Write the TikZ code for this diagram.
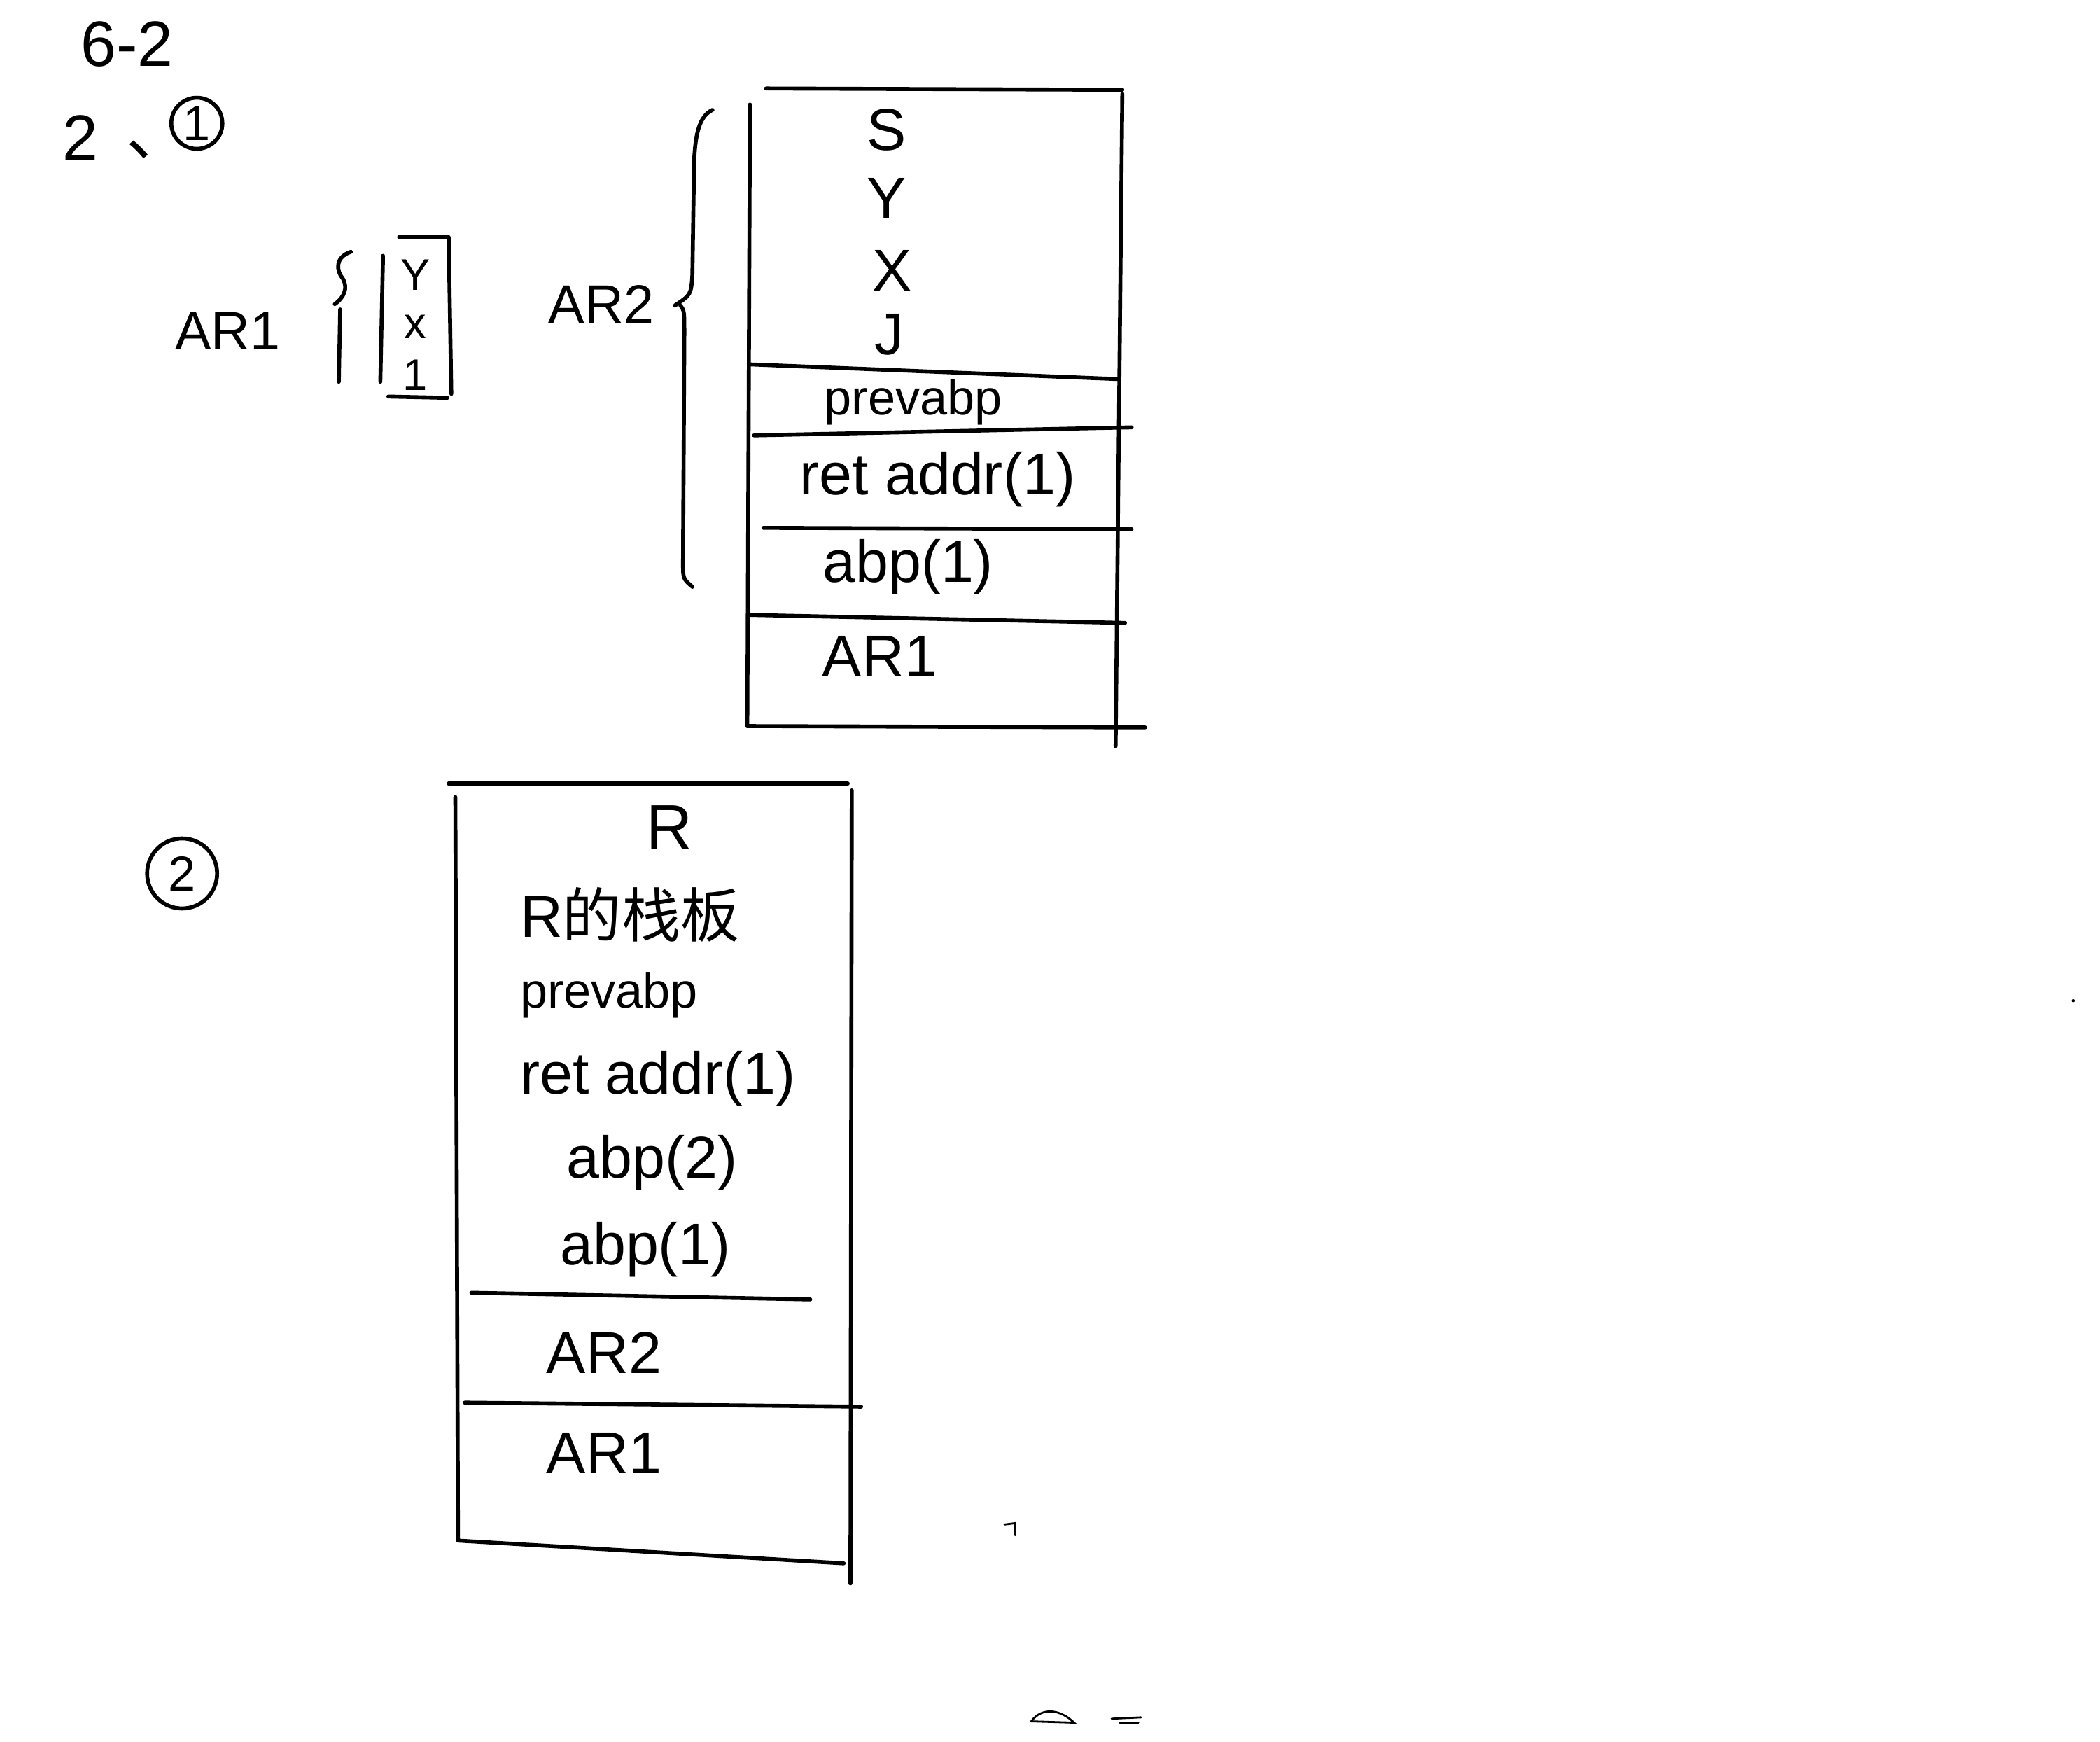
\documentclass[tikz,border=0pt]{standalone}
\usepackage{fontspec}
\setmainfont{Liberation Sans}
\newfontfamily\cjk{Noto Sans CJK SC}
\usetikzlibrary{positioning}
\tikzset{every picture/.append style={x=1.913cm,y=-1.913cm}}
\tikzset{pen/.style={line width=1.6pt, line cap=round, line join=round}}
\tikzset{speck/.style={line width=0.8pt, line cap=round}}
\tikzset{slot/.style={inner sep=0pt, font=\fontsize{24}{28}\selectfont}}
\tikzset{narrow/.style={inner sep=0pt, font=\fontsize{20}{24}\selectfont}}
\tikzset{label/.style={inner sep=0pt, font=\fontsize{26}{30}\selectfont}}
\tikzset{side/.style={inner sep=0pt, font=\fontsize{22}{26}\selectfont}}
\tikzset{small/.style={inner sep=0pt, font=\fontsize{18}{22}\selectfont}}
\tikzset{ring/.style={circle, draw, line width=1.6pt, inner sep=0pt, font=\fontsize{20}{24}\selectfont}}

\begin{document}
\begin{tikzpicture}
\useasboundingbox (0,0) rectangle (15.68,13.00);
%headings
\node (title) at (0.95,0.33)[label]{6-2};
\node (two) at (0.60,1.03)[label]{2};
\node (dun) at (0.94,1.16)[label, anchor=base west]{\cjk 、};
\node (one) at (1.47,0.92)[ring, minimum size=0.73cm]{1};
\node (second) at (1.36,6.52)[ring, minimum size=1.0cm]{2};

%AR1 on its own
\node (ar1) at (1.70,2.47)[side]{AR1};
\draw[pen] (2.62,1.88) .. controls (2.50,1.92) and (2.51,2.02) .. (2.56,2.08) .. controls (2.60,2.15) and (2.57,2.22) .. (2.50,2.27);
\draw[pen] (2.54,2.31)--(2.53,2.85);
\coordinate (p1) at (2.86,1.91);
\coordinate (p2) at (2.84,2.85);
\coordinate (q1) at (2.98,1.77);
\coordinate (q2) at (3.35,1.77);
\coordinate (q3) at (3.37,2.94);
\coordinate (q4) at (2.90,2.96);
\coordinate (q5) at (3.34,2.97);
\draw[pen] (p1)--(p2);
\draw[pen] (q1)--(q2)--(q3);
\draw[pen] (q4)--(q5);
\node (y1) at (3.10,2.05)[small]{Y};
\node (x1) at (3.10,2.44)[small]{x};
\node (j1) at (3.10,2.80)[small]{1};

%AR2 stack
\node (ar2) at (4.49,2.27)[side]{AR2};
\draw[pen] (5.32,0.82) .. controls (5.19,0.88) and (5.18,1.10) .. (5.18,1.40) -- (5.17,2.05) .. controls (5.16,2.20) .. (5.04,2.28);
\draw[pen] (5.08,2.28) .. controls (5.11,2.32) .. (5.11,2.50) -- (5.10,4.20) .. controls (5.10,4.32) .. (5.17,4.38);
\coordinate (tl) at (5.60,0.78);
\coordinate (bl) at (5.58,5.42);
\coordinate (tr) at (8.38,0.70);
\coordinate (br) at (8.33,5.57);
\draw[pen] (5.72,0.66)--(8.38,0.67);
\draw[pen] (tl)--(bl);
\draw[pen] (tr)--(br);
\draw[pen] (bl)--(8.55,5.43);
\draw[pen] (5.60,2.72)--(8.35,2.83);
\draw[pen] (5.63,3.25)--(8.45,3.19);
\draw[pen] (5.70,3.94)--(8.45,3.95);
\draw[pen] (5.60,4.59)--(8.40,4.65);
\node (s) at (6.62,0.97)[slot]{S};
\node (y) at (6.62,1.48)[slot]{Y};
\node (x) at (6.66,2.02)[slot]{X};
\node (j) at (6.64,2.50)[slot]{J};
\node (prev) at (6.82,3.00)[narrow]{prevabp};
\node (ret) at (7.00,3.58)[slot]{ret addr(1)};
\node (abp) at (6.78,4.23)[slot]{abp(1)};
\node (ar1b) at (6.57,4.90)[slot]{AR1};

%R stack
\draw[pen] (3.35,5.85)--(6.33,5.85);
\draw[pen] (3.40,5.95)--(3.42,11.50)--(6.30,11.67);
\draw[pen] (6.36,5.90)--(6.35,11.82);
\draw[pen] (3.52,9.65)--(6.05,9.70);
\draw[pen] (3.47,10.47)--(6.43,10.50);
\node (r) at (5.00,6.18)[label]{R};
\node (frame) at (3.88,6.83)[slot, anchor=west]{R\cjk 的栈板};
\node (prev2) at (3.88,7.43)[narrow, anchor=west]{prevabp};
\node (ret2) at (3.88,8.05)[slot, anchor=west]{ret addr(1)};
\node (abp2) at (4.87,8.68)[slot]{abp(2)};
\node (abp1) at (4.82,9.33)[slot]{abp(1)};
\node (ar2b) at (4.51,10.10)[slot]{AR2};
\node (ar1c) at (4.51,10.85)[slot]{AR1};

%specks on the page
\draw[speck] (7.50,11.38)--(7.58,11.37)--(7.58,11.46);
\fill (15.48,7.47) circle (0.012);
\draw[speck] (7.70,12.85) .. controls (7.78,12.74) and (7.92,12.76) .. (8.02,12.86) -- cycle;
\draw[speck] (8.30,12.83)--(8.52,12.82);
\draw[speck] (8.36,12.86)--(8.50,12.86);
\end{tikzpicture}
\end{document}
